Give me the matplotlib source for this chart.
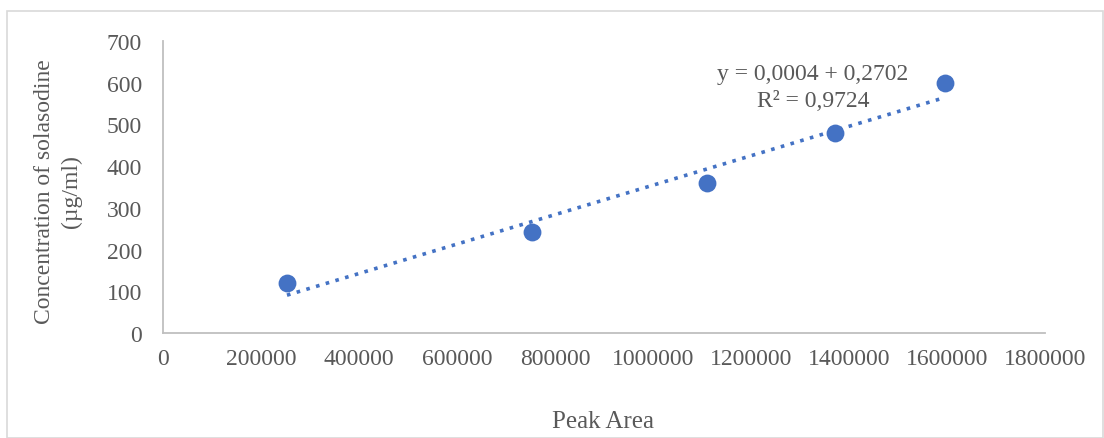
import numpy as np
import matplotlib
matplotlib.use("Agg")
import matplotlib.pyplot as plt
from matplotlib.patches import Rectangle

peak_area = [253000, 753000, 1110000, 1371000, 1596000]
concentration = [120, 241, 360, 480, 600]
x_ticks = [0, 200000, 400000, 600000, 800000, 1000000, 1200000, 1400000, 1600000, 1800000]
y_ticks = [0, 100, 200, 300, 400, 500, 600, 700]
eq_text = "y = 0,0004 + 0,2702\nR² = 0,9724"
x_title = "Peak Area"
y_title = "Concentration of solasodine\n(µg/ml)"

plt.rcParams['font.family'] = ['Liberation Serif', 'DejaVu Serif']
blue = "#4472C4"
grey_text = "#595959"
W, H = 1104, 439

fig = plt.figure(figsize=(W / 100, H / 100), dpi=100)
fig.patches.append(Rectangle((7 / W, 0), 1 - 7 / W - 0.001, 1 - 12 / H, transform=fig.transFigure,
                             fill=False, edgecolor="#d9d9d9", linewidth=1.2))
ax = fig.add_axes([163 / W, 1 - 334 / H, (1045 - 163) / W, (334 - 42) / H])

ax.scatter(peak_area, concentration, s=165, color=blue, zorder=3, linewidths=0)
coef = np.polyfit(peak_area, concentration, 1)
xs = np.array([min(peak_area), max(peak_area)])
ax.plot(xs, np.polyval(coef, xs), linestyle=(0, (1, 1.8)), color=blue, linewidth=2.6, zorder=2)

ax.set_xlim(0, 1800000)
ax.set_ylim(0, 700)
ax.set_xticks(x_ticks)
ax.set_yticks(y_ticks)
ax.set_xticklabels([str(v) for v in x_ticks])
ax.set_yticklabels([str(v) for v in y_ticks])
ax.tick_params(length=0, labelsize=17, colors=grey_text)
ax.tick_params(axis='x', pad=11)
ax.tick_params(axis='y', pad=15)
for s in ['top', 'right']:
    ax.spines[s].set_visible(False)
for s in ['left', 'bottom']:
    ax.spines[s].set_color("#bfbfbf")
    ax.spines[s].set_linewidth(1.3)

fig.text(603 / W, 1 - 422 / H, x_title, fontsize=18, color=grey_text, ha='center', va='center')
fig.text(58 / W, 1 - 192 / H, y_title, fontsize=17, color=grey_text, ha='center', va='center',
         rotation=90, linespacing=1.35, multialignment='center')
fig.text(813 / W, 1 - 88 / H, eq_text, fontsize=17, color=grey_text, ha='center', va='center',
         linespacing=1.4, multialignment='center')

fig.savefig("out.png", dpi=100)
